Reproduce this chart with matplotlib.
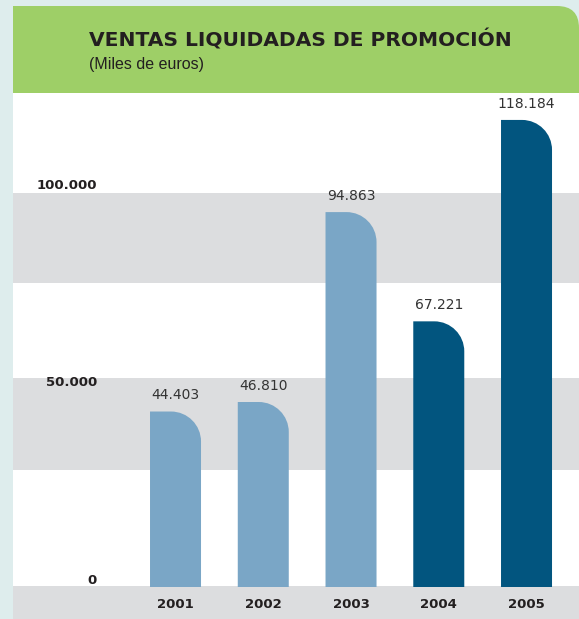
import matplotlib.pyplot as plt
from matplotlib.path import Path
from matplotlib.patches import PathPatch, Rectangle

years = ['2001', '2002', '2003', '2004', '2005']
ventas = [44403, 46810, 94863, 67221, 118184]
bar_colors = ['#7aa6c6', '#7aa6c6', '#7aa6c6', '#02557f', '#02557f']
yticks = [0, 50000, 100000]
ytick_labels = ['0', '50.000', '100.000']

W, H = 579, 619
fig = plt.figure(figsize=(W / 100, H / 100), dpi=100, facecolor='#deeded')


def fx(x):
    return x / W


def fy(y):
    return 1 - y / H


def frect(x0, y0, x1, y1, color):
    fig.patches.append(Rectangle((fx(x0), fy(y1)), fx(x1) - fx(x0), fy(y0) - fy(y1),
                                 transform=fig.transFigure, facecolor=color,
                                 edgecolor='none', zorder=-2))


# white panel and grey bands
frect(13, 93, W, H, 'white')
for y0, y1 in [(193, 283), (378, 470), (586, H)]:
    frect(13, y0, W, y1, '#dcdddf')

# green header with rounded top-right corner
verts = [(13, 93), (13, 6), (557, 6), (W, 6), (W, 28), (W, 93), (13, 93)]
codes = [Path.MOVETO, Path.LINETO, Path.LINETO, Path.CURVE3, Path.CURVE3,
         Path.LINETO, Path.CLOSEPOLY]
hdr = Path([(fx(x), fy(y)) for x, y in verts], codes)
fig.patches.append(PathPatch(hdr, transform=fig.transFigure, facecolor='#9ecf67',
                             edgecolor='none', zorder=-1))

fig.text(fx(89), fy(40), 'VENTAS LIQUIDADAS DE PROMOCIÓN', fontsize=14.6,
         fontweight='bold', family='DejaVu Sans', color='#231f20', va='center')
fig.text(fx(89), fy(64), '(Miles de euros)', fontsize=11.5, family='Liberation Sans',
         color='#231f20', va='center')

# plot axes
ax_left, ax_right, ax_bottom, ax_top = 13, W, 587, 93
ax = fig.add_axes([fx(ax_left), fy(ax_bottom), fx(ax_right) - fx(ax_left),
                   fy(ax_top) - fy(ax_bottom)])
ax.set_facecolor('none')
ax.axis('off')
xmin, xmax = -1.852, 4.598
ymax = 125000
ax.set_xlim(xmin, xmax)
ax.set_ylim(0, ymax)

px_x = (ax_right - ax_left) / (xmax - xmin)
px_y = (ax_bottom - ax_top) / ymax
w = 51 / px_x
rx = 30 / px_x
ry = 30 / px_y
k = 0.5523

for i, (v, c) in enumerate(zip(ventas, bar_colors)):
    x0, x1 = i - w / 2, i + w / 2
    verts = [(x0, 0), (x0, v), (x1 - rx, v),
             (x1 - rx + k * rx, v), (x1, v - ry + k * ry), (x1, v - ry),
             (x1, 0), (x0, 0)]
    codes = [Path.MOVETO, Path.LINETO, Path.LINETO,
             Path.CURVE4, Path.CURVE4, Path.CURVE4,
             Path.LINETO, Path.CLOSEPOLY]
    ax.add_patch(PathPatch(Path(verts, codes), facecolor=c, edgecolor='none'))
    ax.text(i, v + 2300, f'{v:,}'.replace(',', '.'), ha='center', va='bottom',
            fontsize=10, color='#333333')
    ax.text(i, -17 / px_y, years[i], ha='center', va='center', fontsize=9.5,
            fontweight='bold', color='#231f20', clip_on=False)

for t, lab in zip(yticks, ytick_labels):
    ax.text(xmin + (97 - ax_left) / px_x, t, lab, ha='right', va='bottom',
            fontsize=9.5, fontweight='bold', color='#231f20')

fig.savefig('out.png', dpi=100, facecolor=fig.get_facecolor())
